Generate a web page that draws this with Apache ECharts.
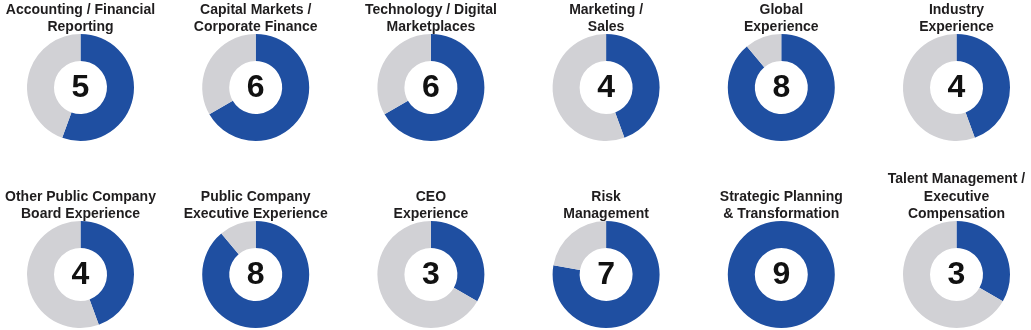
<!DOCTYPE html>
<html><head><meta charset="utf-8">
<script src="https://cdn.jsdelivr.net/npm/echarts@6/dist/echarts.min.js"></script>
<style>html,body{margin:0;padding:0;background:#fff}#c{width:1031px;height:330px}</style>
</head><body><div id="c"></div>
<script>
const categories = [
  "Accounting / Financial\nReporting",
  "Capital Markets /\nCorporate Finance",
  "Technology / Digital\nMarketplaces",
  "Marketing /\nSales",
  "Global\nExperience",
  "Industry\nExperience",
  "Other Public Company\nBoard Experience",
  "Public Company\nExecutive Experience",
  "CEO\nExperience",
  "Risk\nManagement",
  "Strategic Planning\n& Transformation",
  "Talent Management /\nExecutive\nCompensation"
];
const values = [5, 6, 6, 4, 8, 4, 4, 8, 3, 7, 9, 3];
const total = 9;

const chart = echarts.init(document.getElementById('c'), null, {renderer: 'canvas'});
const FONT = 'Liberation Sans, Arial, sans-serif';
const series = [];
const graphics = [];
const colX = i => 80.5 + i * 175.2;
const rowY = [87.5, 274.5];
const R = 53.5, r = 26.5;
categories.forEach((name, k) => {
  const col = k % 6, row = Math.floor(k / 6);
  const cx = colX(col), cy = rowY[row];
  const data = [{value: values[k], name: 'yes', itemStyle: {color: '#1f4fa1'}}];
  if (total - values[k] > 0) data.push({value: total - values[k], name: 'no', itemStyle: {color: '#d1d1d5'}});
  series.push({
    type: 'pie', center: [cx, cy], radius: [r, R], startAngle: 90, clockwise: true,
    silent: true, animation: false, labelLine: {show: false},
    label: {show: false},
    itemStyle: {borderWidth: 0}, data
  });
  graphics.push({
    type: 'text', x: cx, y: cy - R + 2, silent: true,
    style: {text: name, textAlign: 'center', textVerticalAlign: 'bottom', fontFamily: FONT,
      fontSize: 14, fontWeight: 'bold', fill: '#1f1d1e', lineHeight: 17.5}
  });
  graphics.push({
    type: 'text', x: cx, y: cy + 1, silent: true,
    style: {text: String(values[k]), textAlign: 'center', textVerticalAlign: 'middle', fontFamily: FONT,
      fontSize: 32, fontWeight: 'bold', fill: '#111111'}
  });
});
chart.setOption({animation: false, series, graphic: graphics});
</script></body></html>
